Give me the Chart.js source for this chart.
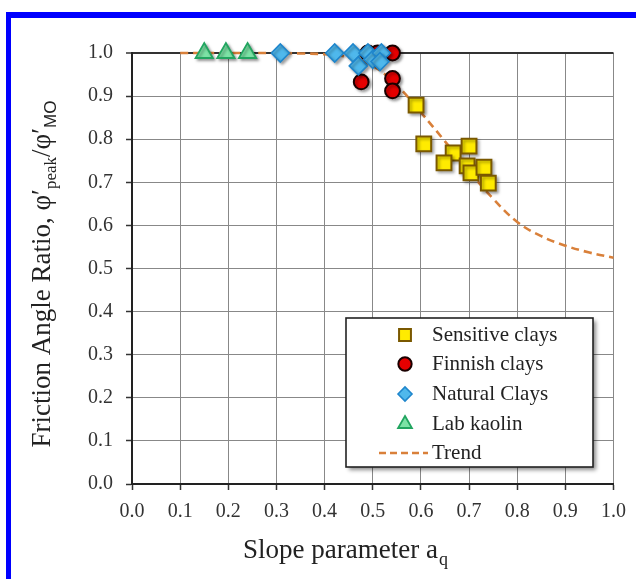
<!DOCTYPE html>
<html><head><meta charset="utf-8">
<script src="https://cdn.jsdelivr.net/npm/chart.js@4/dist/chart.umd.min.js"></script>
<style>
html,body{margin:0;padding:0;background:#fff;}
#wrap{position:relative;width:636px;height:579px;overflow:hidden;background:#fff;}
#frameTop{position:absolute;left:6px;top:12px;width:630px;height:6px;background:#0000ff;}
#frameLeft{position:absolute;left:6px;top:12px;width:5px;height:567px;background:#0000ff;}
canvas{position:absolute;left:0;top:0;}
</style></head>
<body><div id="wrap"><canvas id="c" width="636" height="579"></canvas><div id="frameTop"></div><div id="frameLeft"></div></div>
<script>
// ---- data ----
const xTickValues = [0,0.1,0.2,0.3,0.4,0.5,0.6,0.7,0.8,0.9,1.0];
const yTickValues = [0,0.1,0.2,0.3,0.4,0.5,0.6,0.7,0.8,0.9,1.0];

const sensitiveX = [0.59,0.606,0.667,0.648,0.70,0.696,0.704,0.731,0.74];
const sensitiveY = [0.879,0.789,0.768,0.745,0.784,0.738,0.722,0.735,0.698];

const finnishX = [0.476,0.49,0.51,0.541,0.541,0.541];
const finnishY = [0.933,1.0,1.0,1.0,0.941,0.912];

const naturalX = [0.308,0.421,0.459,0.47,0.49,0.50,0.518,0.515];
const naturalY = [1.0,1.0,1.0,0.97,1.0,0.985,1.0,0.98];

const kaolinX = [0.15,0.195,0.24];
const kaolinY = [1.0,1.0,1.0];

const trendX = [0.1,0.15,0.2,0.25,0.3,0.35,0.4,0.45,0.5,0.55,0.6,0.65,0.7,0.75,0.8,0.85,0.9,0.95,1.0];
const trendY = [1.0,1.0,1.0,1.0,1.0,0.999,0.997,0.99,0.97,0.925,0.862,0.795,0.726,0.662,0.608,0.575,0.553,0.537,0.525];

const legendLabels = ['Sensitive clays','Finnish clays','Natural Clays','Lab kaolin','Trend'];

const pts = (xs, ys) => xs.map((x, i) => ({x, y: ys[i]}));

const SERIF = '"Liberation Serif","Times New Roman",serif';
const SANS = '"Liberation Sans",Arial,sans-serif';

const styles = {
  sensitive: {pointStyle:'rect', radius:10.5, bg:'#ffeb00', border:'#7a5800', bw:2},
  finnish: {pointStyle:'circle', radius:7.4, bg:'#e60000', border:'#1a0000', bw:2},
  natural: {pointStyle:'rectRot', radius:9, bg:'#4fb8ec', border:'#1f86cc', bw:1.6},
  kaolin: {pointStyle:'triangle', radius:10, bg:'#7de3a6', border:'#22a560', bw:1.8},
};
const trendColor = '#d9803a';

function ds(label, data, s) {
  return {label, data, showLine:false, clip:false, pointStyle:s.pointStyle, pointRadius:s.radius, pointHoverRadius:s.radius,
    pointBackgroundColor:s.bg, pointBorderColor:s.border, pointBorderWidth:s.bw};
}

const overlay = {
  id: 'overlay',
  beforeDatasetDraw(chart, args) {
    const ctx = chart.ctx;
    ctx.save();
    if (args.index < 4) {
      ctx.shadowColor = 'rgba(0,0,0,0.35)';
      ctx.shadowBlur = 3;
      ctx.shadowOffsetX = 2;
      ctx.shadowOffsetY = 2;
    }
  },
  afterDatasetDraw(chart) { chart.ctx.restore(); },
  afterDraw(chart) {
    const ctx = chart.ctx;
    // ---- legend ----
    const L = 346, T = 318, W = 247, H = 149;
    ctx.save();
    ctx.shadowColor = 'rgba(0,0,0,0.45)'; ctx.shadowBlur = 4; ctx.shadowOffsetX = 3; ctx.shadowOffsetY = 3;
    ctx.fillStyle = '#fff'; ctx.fillRect(L, T, W, H);
    ctx.restore();
    ctx.save();
    ctx.strokeStyle = '#222'; ctx.lineWidth = 1.6; ctx.strokeRect(L, T, W, H);
    const rows = [335, 364, 394, 424, 453];
    const mx = 405, tx = 432;
    const order = ['sensitive','finnish','natural','kaolin'];
    const legendScale = [0.8, 0.9, 0.78, 0.8];
    order.forEach((k, i) => {
      const s = styles[k];
      ctx.fillStyle = s.bg; ctx.strokeStyle = s.border; ctx.lineWidth = s.bw;
      Chart.helpers.drawPoint(ctx, {pointStyle:s.pointStyle, radius:s.radius*legendScale[i], rotation:0, borderWidth:s.bw}, mx, rows[i]);
    });
    ctx.strokeStyle = trendColor; ctx.lineWidth = 2.5; ctx.setLineDash([7,4]);
    ctx.beginPath(); ctx.moveTo(379, rows[4]); ctx.lineTo(428, rows[4]); ctx.stroke();
    ctx.setLineDash([]);
    ctx.fillStyle = '#222'; ctx.font = '21px ' + SERIF; ctx.textBaseline = 'middle'; ctx.textAlign = 'left';
    legendLabels.forEach((t, i) => ctx.fillText(t, tx, rows[i]));
    ctx.restore();

    // ---- x title ----
    ctx.save();
    ctx.fillStyle = '#222'; ctx.textBaseline = 'alphabetic'; ctx.textAlign = 'left';
    const main = 'Slope parameter a', sub = 'q';
    ctx.font = '27px ' + SERIF; const w1 = ctx.measureText(main).width;
    ctx.font = '18px ' + SERIF; const w2 = ctx.measureText(sub).width;
    let x0 = 345 - (w1 + w2) / 2;
    ctx.font = '27px ' + SERIF; ctx.fillText(main, x0, 558);
    ctx.font = '18px ' + SERIF; ctx.fillText(sub, x0 + w1 + 1, 565);
    ctx.restore();

    // ---- y title ----
    ctx.save();
    ctx.fillStyle = '#222'; ctx.textBaseline = 'alphabetic'; ctx.textAlign = 'left';
    ctx.translate(50, 274);
    ctx.rotate(-Math.PI / 2);
    const parts = [
      {t:'Friction Angle Ratio, \u03C6\u2032', f:'27px ' + SERIF, dy:0},
      {t:'peak', f:'17px ' + SERIF, dy:6},
      {t:'/\u03C6\u2032', f:'27px ' + SERIF, dy:0},
      {t:'MO', f:'17px ' + SANS, dy:6},
    ];
    let total = 0;
    parts.forEach(p => { ctx.font = p.f; p.w = ctx.measureText(p.t).width; total += p.w; });
    let cx = -total / 2;
    parts.forEach(p => { ctx.font = p.f; ctx.fillText(p.t, cx, p.dy); cx += p.w; });
    ctx.restore();
  }
};

const tickFont = {family: SERIF, size: 20};

new Chart(document.getElementById('c'), {
  type: 'scatter',
  data: {
    datasets: [
      ds('Natural Clays', pts(naturalX, naturalY), styles.natural),
      ds('Finnish clays', pts(finnishX, finnishY), styles.finnish),
      ds('Sensitive clays', pts(sensitiveX, sensitiveY), styles.sensitive),
      ds('Lab kaolin', pts(kaolinX, kaolinY), styles.kaolin),
      {label:'Trend', data: pts(trendX, trendY), showLine:true, clip:false, pointRadius:0, borderColor:trendColor,
       borderWidth:2.6, borderDash:[8,5], tension:0.4, fill:false}
    ]
  },
  options: {
    responsive: false, animation: false, devicePixelRatio: 1,
    layout: {padding: {top: 53, right: 22, left: 0, bottom: 0}},
    plugins: {legend: {display: false}, tooltip: {enabled: false}},
    scales: {
      x: {
        type: 'linear', min: 0, max: 1,
        afterBuildTicks: s => { s.ticks = xTickValues.map(v => ({value: v})); },
        afterFit: s => { s.height = 95; },
        ticks: {font: tickFont, color: '#333', padding: 10, maxRotation: 0, callback: v => v.toFixed(1)},
        grid: {color: '#888', lineWidth: 1, tickLength: 6, tickColor: '#333', tickWidth: 1.5},
        border: {display: true, color: '#222', width: 2}
      },
      y: {
        type: 'linear', min: 0, max: 1,
        afterBuildTicks: s => { s.ticks = yTickValues.map(v => ({value: v})); },
        afterFit: s => { s.width = 132; },
        ticks: {font: tickFont, color: '#333', padding: 13, callback: v => v.toFixed(1)},
        grid: {color: c => (c.tick && c.tick.value === 1 ? '#333' : '#888'),
               lineWidth: c => (c.tick && c.tick.value === 1 ? 2 : 1), tickLength: 6, tickColor: '#333', tickWidth: 1.5},
        border: {display: true, color: '#222', width: 2}
      }
    }
  },
  plugins: [overlay]
});
</script>
</body></html>
